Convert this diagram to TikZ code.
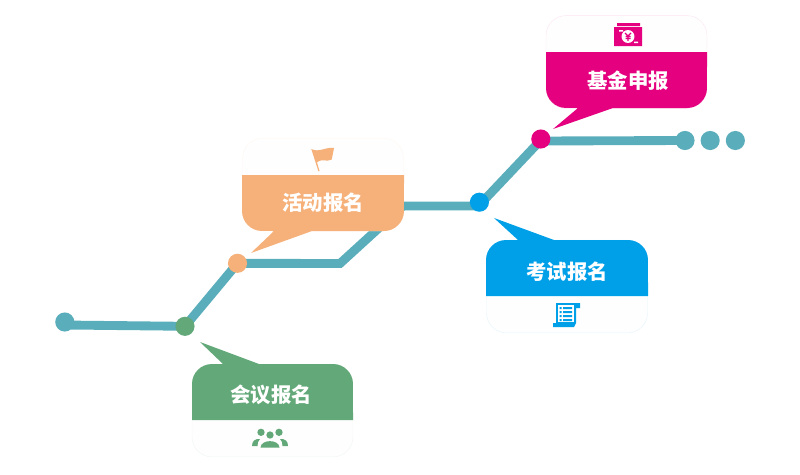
\documentclass[tikz,border=0pt]{standalone}
\usepackage{fontspec}
\usetikzlibrary{positioning,backgrounds}
\newfontfamily\cjk{Noto Sans CJK SC}
\definecolor{railteal}{HTML}{5AADBB}
\definecolor{meetgreen}{HTML}{62A878}
\definecolor{eventorange}{HTML}{F6B17A}
\definecolor{examblue}{HTML}{00A0E9}
\definecolor{fundpink}{HTML}{E4007F}
\begin{document}
\begin{tikzpicture}[x=0.025cm,y=-0.025cm]
\tikzstyle{station}=[shape=circle,inner sep=0pt,minimum size=13.6pt]
\tikzstyle{rail}=[draw=railteal,line width=6.3pt,line join=miter]
\tikzstyle{panel}=[shape=rectangle,rounded corners=14.2pt,fill=white!99.5!black,line width=0.3pt,minimum width=114.5pt,inner sep=0pt]
\tikzstyle{band}=[radius=14.2pt]
\tikzstyle{title}=[text=white,font=\cjk\bfseries\fontsize{14.5}{16}\selectfont]
\useasboundingbox (0,0) rectangle (800,474);

\node[station,fill=railteal]    (A) at (64.8,322) {};
\node[station,fill=meetgreen]   (B) at (185,326.3) {};
\node[station,fill=eventorange] (C) at (237.5,263.3) {};
\node[station,fill=examblue]    (D) at (479.4,202.2) {};
\node[station,fill=fundpink]    (E) at (540.8,139) {};
\node[station,fill=railteal]    (F) at (685,140.5) {};
\node[station,fill=railteal]    (G) [right=3.9pt of F] {};
\node[station,fill=railteal]    (H) [right=3.9pt of G] {};
\coordinate (bendA) at (65,325);
\coordinate (bendB) at (340,263.5);
\coordinate (bendC) at (403,206);
\coordinate (bendD) at (478.5,206);
\coordinate (bendE) at (540,141);
\begin{scope}[on background layer]
\draw[rail] (bendA) -- (B.center) -- (C.center) -- (bendB) -- (bendC) -- (bendD) -- (bendE) -- (F.center);
\end{scope}

% meeting
\node[panel,draw=meetgreen!10,minimum height=66pt] (meetbox) at (272.5,410.5) {};
\fill[band,meetgreen] (192,420) -- (192,384) arc[start angle=180,end angle=90] -- (223,364) -- (200,342) -- (259,364) -- (333,364) arc[start angle=90,end angle=0] -- (353,420) -- cycle;
\node[title] (meettext) at (271,395.3) {会议报名};
\fill[meetgreen] (261,432.3) circle[radius=2.6pt] (270,435) circle[radius=2.6pt] (279,432.3) circle[radius=2.6pt];
\fill[meetgreen] (260.5,447.5) .. controls (261,439) and (279,439) .. (279.5,447.5) -- cycle;
\fill[meetgreen] (252,446) .. controls (252,441) and (255,438.5) .. (260,439) .. controls (257.5,441) and (258,443) .. (257.5,446) -- cycle;
\fill[meetgreen] (288,446) .. controls (288,441) and (285,438.5) .. (280,439) .. controls (282.5,441) and (282,443) .. (282.5,446) -- cycle;

% event
\node[panel,draw=eventorange!10,minimum height=66pt] (eventbox) at (323,184.5) {};
\fill[band,eventorange] (242,175) -- (242,211) arc[start angle=180,end angle=270] -- (274,231) -- (251,253) -- (312,231) -- (384,231) arc[start angle=270,end angle=360] -- (404,175) -- cycle;
\node[title] (eventtext) at (323,202.3) {活动报名};
\fill[eventorange] (311.3,149) .. controls (319,153) and (326,146.5) .. (334,148) -- (331.7,159.5) .. controls (326,162.5) and (323,158) .. (317,162.3) -- (319.5,171) -- (318.3,171) -- cycle;

% exam
\node[panel,draw=examblue!10,minimum height=66pt] (exambox) at (567,286.5) {};
\fill[band,examblue] (486,296) -- (486,260) arc[start angle=180,end angle=90] -- (518,240) -- (494,218) -- (554,240) -- (628,240) arc[start angle=90,end angle=0] -- (648,296) -- cycle;
\node[title] (examtext) at (567,271.3) {考试报名};
\fill[examblue] (556,303) -- (580,303) -- (580,308) -- (576,308) -- (576,323) -- (574,327) -- (553,327) -- (553,323) -- (556,323) -- cycle;
\fill[white] (558,305) rectangle (574,322);
\foreach \rowy in {307,311,315,319} {
  \fill[examblue] (559.5,\rowy) rectangle (561.5,\rowy+2) (563,\rowy) rectangle (572,\rowy+2);
}

% fund
\node[panel,draw=fundpink!10,minimum height=66pt] (fundbox) at (626.5,62) {};
\fill[band,fundpink] (546,52) -- (546,88) arc[start angle=180,end angle=270] -- (578,108) -- (553,129) -- (613,108) -- (687,108) arc[start angle=270,end angle=360] -- (707,52) -- cycle;
\node[title] (fundtext) at (628,80.3) {基金申报};
\fill[fundpink] (617,23) rectangle (640,26) (614,27) rectangle (642,46);
\fill[white] (628,36.5) circle[radius=4.6pt] (619,30) rectangle (623,31.5) (634,41.5) rectangle (638,43);
\draw[fundpink,line width=0.9pt] (625,33) -- (628,36) -- (631,33) (628,36) -- (628,41) (625.5,36.5) -- (630.5,36.5) (625.5,38.5) -- (630.5,38.5);
\end{tikzpicture}
\end{document}
